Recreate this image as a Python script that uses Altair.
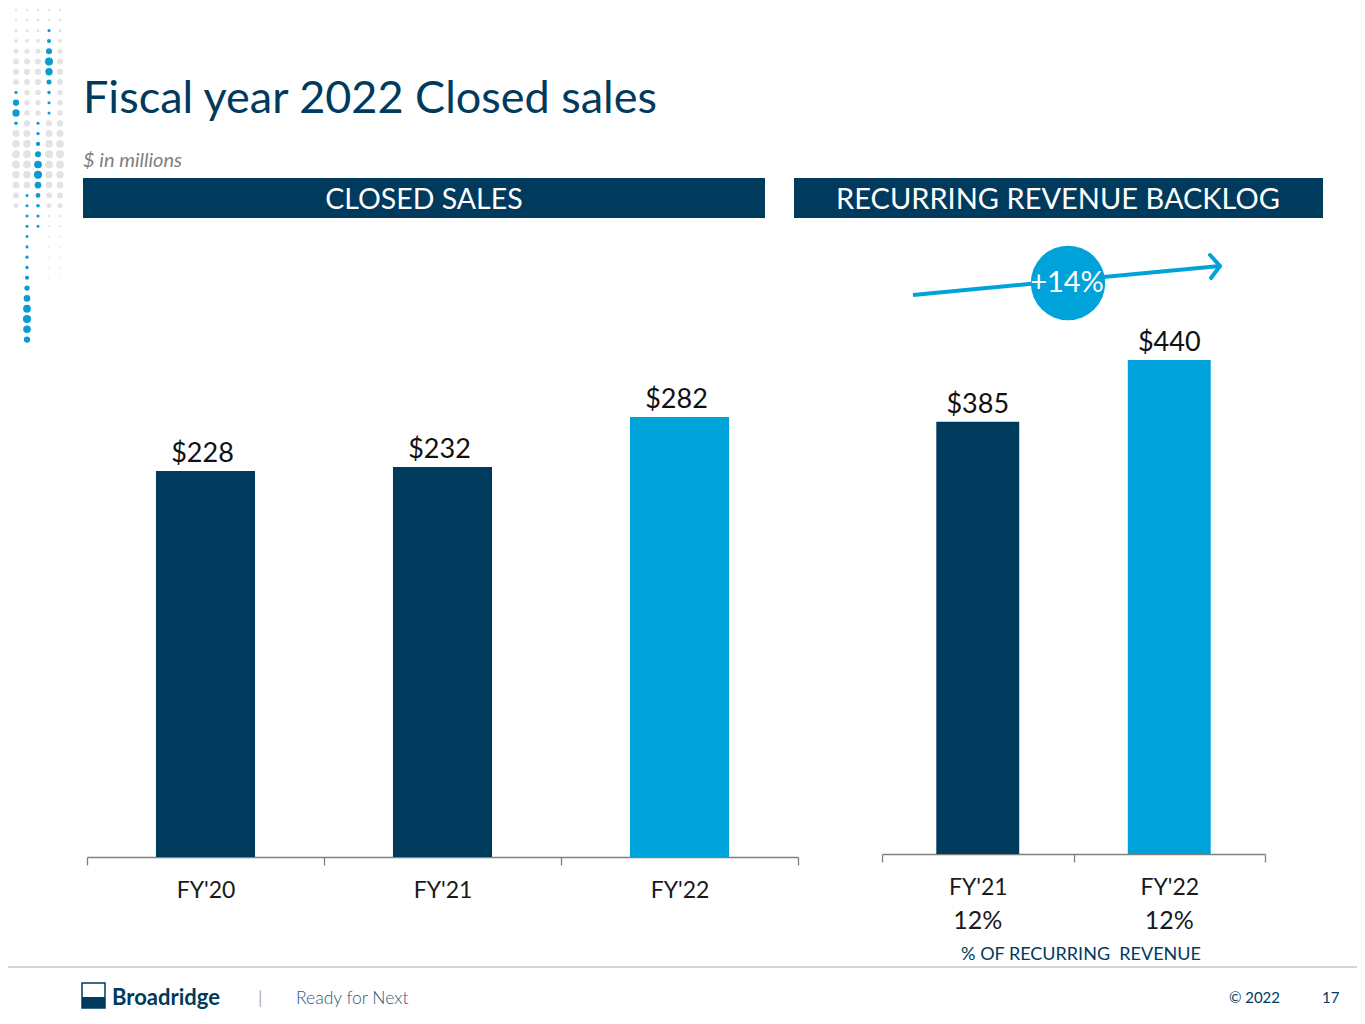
import json
import math

import altair as alt
import pandas as pd

# ---- values ----
closed_years = ["FY'20", "FY'21", "FY'22"]
closed_sales = [228, 232, 282]

backlog_years = ["FY'21", "FY'22"]
backlog_values = [385, 440]
recurring_pct = ["12%", "12%"]

growth_label = "+14%"

NAVY = "#003A5D"
BLUE = "#00A3D9"
FONT = "Lato"

# left chart's value axis does not start at zero on the slide
LEFT_AXIS_MIN = -158


def highlight(field, value):
    return alt.condition(f"datum.{field} === {json.dumps(value)}",
                         alt.value(BLUE), alt.value(NAVY))


def x_axis(offset=0):
    return alt.Axis(orient="bottom", title=None, tickBand="extent", labelAngle=0,
                    domainColor="#808080", tickColor="#808080", domainWidth=1.3,
                    tickWidth=1.3, tickSize=8, labelFont=FONT, labelFontSize=23,
                    labelColor="#1a1a1a", labelPadding=14, offset=offset)


# ---- closed sales panel ----
left_df = pd.DataFrame({"year": closed_years, "value": closed_sales})
left_base = alt.Chart(left_df).encode(
    x=alt.X("year:N", sort=closed_years,
            scale=alt.Scale(range=[79, 790], paddingInner=0, paddingOuter=0),
            axis=x_axis()),
    y=alt.Y("value:Q", axis=None,
            scale=alt.Scale(domain=[LEFT_AXIS_MIN, 282], range=[849, 409],
                            nice=False, zero=False)),
)
left_bars = left_base.mark_bar(width=alt.RelativeBandSize(0.418)).encode(
    y2=alt.datum(LEFT_AXIS_MIN),
    color=highlight("year", closed_years[-1]),
)
left_labels = left_base.mark_text(
    font=FONT, fontSize=27, color="#111111", baseline="alphabetic", dy=-9, dx=-3
).transform_calculate(lbl="'$' + datum.value").encode(text="lbl:N")
left_panel = alt.layer(left_bars, left_labels)

# ---- recurring revenue backlog panel ----
right_df = pd.DataFrame({"year": backlog_years, "value": backlog_values,
                         "pct": recurring_pct})
right_base = alt.Chart(right_df).encode(
    x=alt.X("year:N", sort=backlog_years,
            scale=alt.Scale(range=[874, 1257], paddingInner=0, paddingOuter=0),
            axis=x_axis(offset=-3)),
    y=alt.Y("value:Q", axis=None,
            scale=alt.Scale(domain=[0, 440], range=[846, 352], nice=False)),
)
right_bars = right_base.mark_bar(width=alt.RelativeBandSize(0.433)).encode(
    color=highlight("year", backlog_years[-1]))
right_labels = right_base.mark_text(
    font=FONT, fontSize=27, color="#111111", baseline="alphabetic", dy=-9
).transform_calculate(lbl="'$' + datum.value").encode(text="lbl:N")
right_pct = right_base.mark_text(
    font=FONT, fontSize=25, color="#1a1a1a", baseline="middle"
).encode(y=alt.value(913), text="pct:N")
right_panel = alt.layer(right_bars, right_labels, right_pct)

# ---- slide decoration ----
one = pd.DataFrame({"k": [0]})


def text(t, x, y, size, color=NAVY, **kw):
    return alt.Chart(one).mark_text(text=t, font=FONT, fontSize=size, color=color,
                                    **kw).encode(x=alt.value(x), y=alt.value(y))


def rect(x, x2, y, y2, **kw):
    return alt.Chart(one).mark_rect(**kw).encode(
        x=alt.value(x), x2=alt.value(x2), y=alt.value(y), y2=alt.value(y2))


def rule(x, y, x2, y2, **kw):
    return alt.Chart(one).mark_rule(**kw).encode(
        x=alt.value(x), y=alt.value(y), x2=alt.value(x2), y2=alt.value(y2))


# dotted pattern down the left edge: column -> (start, end, peak position)
dot_cols = [8, 19, 30, 41, 52]
blue_runs = {41: (19, 102, 0.45), 8: (80, 122, 0.5), 30: (110, 217, 0.5),
             19: (185, 332, 0.85)}
dots = []
for cx in dot_cols:
    for r in range(33):
        cy = 2 + r * 10.3
        run = blue_runs.get(cx)
        if run and run[0] - 3 <= cy <= run[1] + 3:
            t = (cy - run[0]) / max(run[1] - run[0], 1)
            rad = 1.7 + 2.9 * math.exp(-((t - run[2]) / 0.22) ** 2)
            dots.append({"x": cx, "y": cy, "s": math.pi * rad ** 2, "c": "#0A9BD0"})
        elif cy < 200 - (cx - 8) * 0.3 or (cx >= 41 and cy < 290):
            rad = 1.3 + 3.2 * math.exp(-((cy - 150) / 55) ** 2) + 2.0 * math.exp(-((cy - 60) / 30) ** 2)
            rad *= 0.6 if cy > 200 else 1
            dots.append({"x": cx, "y": cy, "s": math.pi * rad ** 2, "c": "#E3E3E3"})
dots_df = pd.DataFrame(dots)
dot_layer = alt.Chart(dots_df).mark_circle(opacity=1).encode(
    x=alt.X("x:Q", scale=None), y=alt.Y("y:Q", scale=None),
    size=alt.Size("s:Q", scale=None), color=alt.Color("c:N", scale=None),
)

decor = [
    dot_layer,
    text("Fiscal year 2022 Closed sales", 75, 105, 45, align="left", baseline="alphabetic"),
    text("$ in millions", 75, 159, 20, color="#7F7F7F", align="left",
         baseline="alphabetic", fontStyle="italic"),
    rect(75, 757, 170, 210, color=NAVY),
    rect(786, 1315, 170, 210, color=NAVY),
    text("CLOSED SALES", 416, 192, 28.5, color="white", baseline="middle"),
    text("RECURRING REVENUE BACKLOG", 1050, 192, 29, color="white", baseline="middle"),
    # growth arrow
    rule(905, 287, 1212, 258, color=BLUE, strokeWidth=4),
    rule(1212, 258, 1202, 247, color=BLUE, strokeWidth=4, strokeCap="round"),
    rule(1212, 258, 1203, 270, color=BLUE, strokeWidth=4, strokeCap="round"),
    alt.Chart(one).mark_circle(color=BLUE, opacity=1, size=5540).encode(
        x=alt.value(1060), y=alt.value(275)),
    text(growth_label, 1059, 275, 29, color="white", baseline="middle"),
    text("% OF RECURRING\u00a0 REVENUE", 1073, 947, 18, baseline="middle"),
    # footer
    rule(-8, 959, 1357, 959, color="#C8C8C8", strokeWidth=1.5),
    rect(74, 97, 975, 1000, color="white", stroke=NAVY, strokeWidth=1.5),
    rect(74, 97, 989, 1000, color=NAVY),
    text("Broadridge", 104, 997, 22, align="left", baseline="alphabetic", fontWeight="bold"),
    text("|", 250, 996, 18, color="#B0B0B0", align="left", baseline="alphabetic"),
    text("Ready for Next", 288, 996, 17.5, color="#2C587C", align="left",
         baseline="alphabetic", fontWeight=300),
    text("\u00a9 2022", 1272, 995, 15, align="right", baseline="alphabetic"),
    text("17", 1314, 995, 15, align="left", baseline="alphabetic"),
]

chart = alt.layer(*decor, left_panel, right_panel).resolve_scale(
    x="independent", y="independent"
).properties(
    width=1349, height=849,
    autosize=alt.AutoSizeParams(type="none"),
    padding={"left": 0, "top": 0, "right": 0, "bottom": 159},
    background="white",
).configure_view(strokeOpacity=0)

chart.save("out.html", embed_options={"renderer": "svg", "actions": False})
